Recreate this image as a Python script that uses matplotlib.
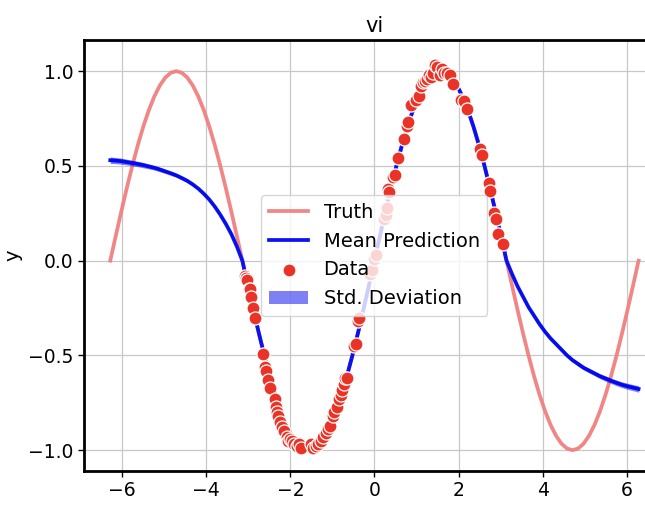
import numpy as np
import matplotlib
matplotlib.use("Agg")
import matplotlib.pyplot as plt

# ---- data ----
# grid: x = k*pi/24, k = -48..48
grid_k = list(range(-48, 49))
quarter = [0.0, 0.1305, 0.2588, 0.3827, 0.5, 0.6088, 0.7071, 0.7934, 0.8660, 0.9239, 0.9659, 0.9914, 1.0]
half_pos = quarter + quarter[-2::-1]                 # 0 .. pi (25 values)
half_neg = [-v for v in half_pos]                    # pi .. 2pi
period = half_pos[:-1] + half_neg[:-1]               # 48 values, one period
truth_y = period + period + [0.0]                    # -2pi .. 2pi (97 values)

mean_left = [0.530, 0.528, 0.525, 0.520, 0.515, 0.510, 0.504, 0.497, 0.490, 0.481, 0.471, 0.461,
             0.450, 0.436, 0.421, 0.402, 0.380, 0.353, 0.322, 0.285, 0.242, 0.194, 0.140, 0.075]
mean_mid = period[24:] + period[:24] + [0.0]         # -pi .. pi (49 values)
mean_right = [-0.070, -0.135, -0.190, -0.245, -0.290, -0.335, -0.375, -0.410, -0.440, -0.470,
              -0.500, -0.525, -0.545, -0.565, -0.580, -0.595, -0.610, -0.622, -0.634, -0.645,
              -0.655, -0.663, -0.670, -0.677]
mean_y = mean_left + mean_mid + mean_right

std_left = [0.017, 0.016, 0.016, 0.015, 0.015, 0.014, 0.014, 0.013, 0.012, 0.012, 0.011, 0.011,
            0.010, 0.010, 0.009, 0.009, 0.008, 0.008, 0.007, 0.007, 0.006, 0.006, 0.005, 0.005]
std_mid = [0.004] * 49
std_right = std_left[::-1]
std_y = std_left + std_mid + std_right

data_x = [-3.08, -3.05, -3.02, -2.99, -2.97, -2.93, -2.88, -2.85, -2.66, -2.60, -2.58, -2.52,
          -2.48, -2.37, -2.35, -2.32, -2.30, -2.24, -2.20, -2.15, -2.08, -2.05, -2.00, -1.96,
          -1.92, -1.85, -1.80, -1.75, -1.52, -1.45, -1.40, -1.35, -1.27, -1.22, -1.15, -1.10,
          -1.05, -0.98, -0.95, -0.88, -0.85, -0.80, -0.76, -0.72, -0.70, -0.66, -0.48, -0.45,
          -0.38, -0.36, -0.10, -0.05, 0.00, 0.03, 0.22, 0.27, 0.30, 0.32, 0.35, 0.45, 0.50, 0.55,
          0.70, 0.78, 0.80, 0.88, 1.00, 1.07, 1.10, 1.15, 1.20, 1.25, 1.30, 1.35, 1.40, 1.45,
          1.50, 1.55, 1.60, 1.65, 1.72, 1.80, 1.88, 2.05, 2.12, 2.20, 2.50, 2.55, 2.72, 2.75,
          2.85, 2.90, 2.95, 3.05]
data_y = [-0.08, -0.09, -0.10, -0.15, -0.15, -0.19, -0.25, -0.30, -0.49, -0.56, -0.58, -0.63,
          -0.67, -0.73, -0.77, -0.80, -0.82, -0.85, -0.88, -0.90, -0.93, -0.95, -0.94, -0.95,
          -0.97, -0.98, -0.97, -0.99, -0.97, -0.99, -0.98, -0.97, -0.95, -0.93, -0.91, -0.89,
          -0.87, -0.82, -0.80, -0.77, -0.73, -0.71, -0.68, -0.65, -0.62, -0.62, -0.45, -0.44,
          -0.32, -0.30, -0.07, -0.05, 0.01, 0.03, 0.22, 0.24, 0.28, 0.38, 0.36, 0.44, 0.45, 0.54,
          0.64, 0.71, 0.73, 0.82, 0.85, 0.87, 0.92, 0.94, 0.95, 0.96, 0.98, 0.97, 0.99, 1.03,
          1.02, 0.98, 1.01, 0.99, 0.99, 0.98, 0.93, 0.85, 0.84, 0.80, 0.59, 0.56, 0.41, 0.37,
          0.25, 0.22, 0.14, 0.09]

gx = np.array(grid_k) * np.pi / 24
mean = np.array(mean_y)
std = np.array(std_y)

fig = plt.figure(figsize=(6.45, 5.08), dpi=100)
ax = fig.add_axes([0.130, 0.0728, 0.901, 0.848])

ax.grid(True, color="#c8c8c8", linewidth=0.9, zorder=0)
ax.set_axisbelow(True)

ax.plot(gx, truth_y, color="#f08080", lw=2.7, alpha=0.95, label="Truth", zorder=2)
ax.plot(gx, mean, color="#0a14f0", lw=2.7, label="Mean Prediction", zorder=3)
ax.scatter(data_x, data_y, s=88, color="#ea3226", edgecolor="white", linewidth=0.9,
           label="Data", zorder=4)
ax.fill_between(gx, mean - std, mean + std, color="#0000ee", alpha=0.5, lw=0,
                label="Std. Deviation", zorder=3)

ax.set_ylim(-1.11, 1.163)
ax.set_xticks([-6, -4, -2, 0, 2, 4, 6])
ax.set_yticks([-1.0, -0.5, 0.0, 0.5, 1.0])
ax.tick_params(labelsize=13.5, length=4, width=1, direction="out")
for s in ["top", "bottom", "left", "right"]:
    ax.spines[s].set_linewidth(2.0)
    ax.spines[s].set_color("black")

ax.set_title("vi", fontsize=15)
ax.set_xlabel("x", fontsize=14)
ax.set_ylabel("y", fontsize=14)

handles, labels = ax.get_legend_handles_labels()
order = ["Truth", "Mean Prediction", "Data", "Std. Deviation"]
hd = dict(zip(labels, handles))
ax.legend([hd[k] for k in order], order, loc="center", fontsize=14, framealpha=0.8)

fig.savefig("out.png", dpi=100)
